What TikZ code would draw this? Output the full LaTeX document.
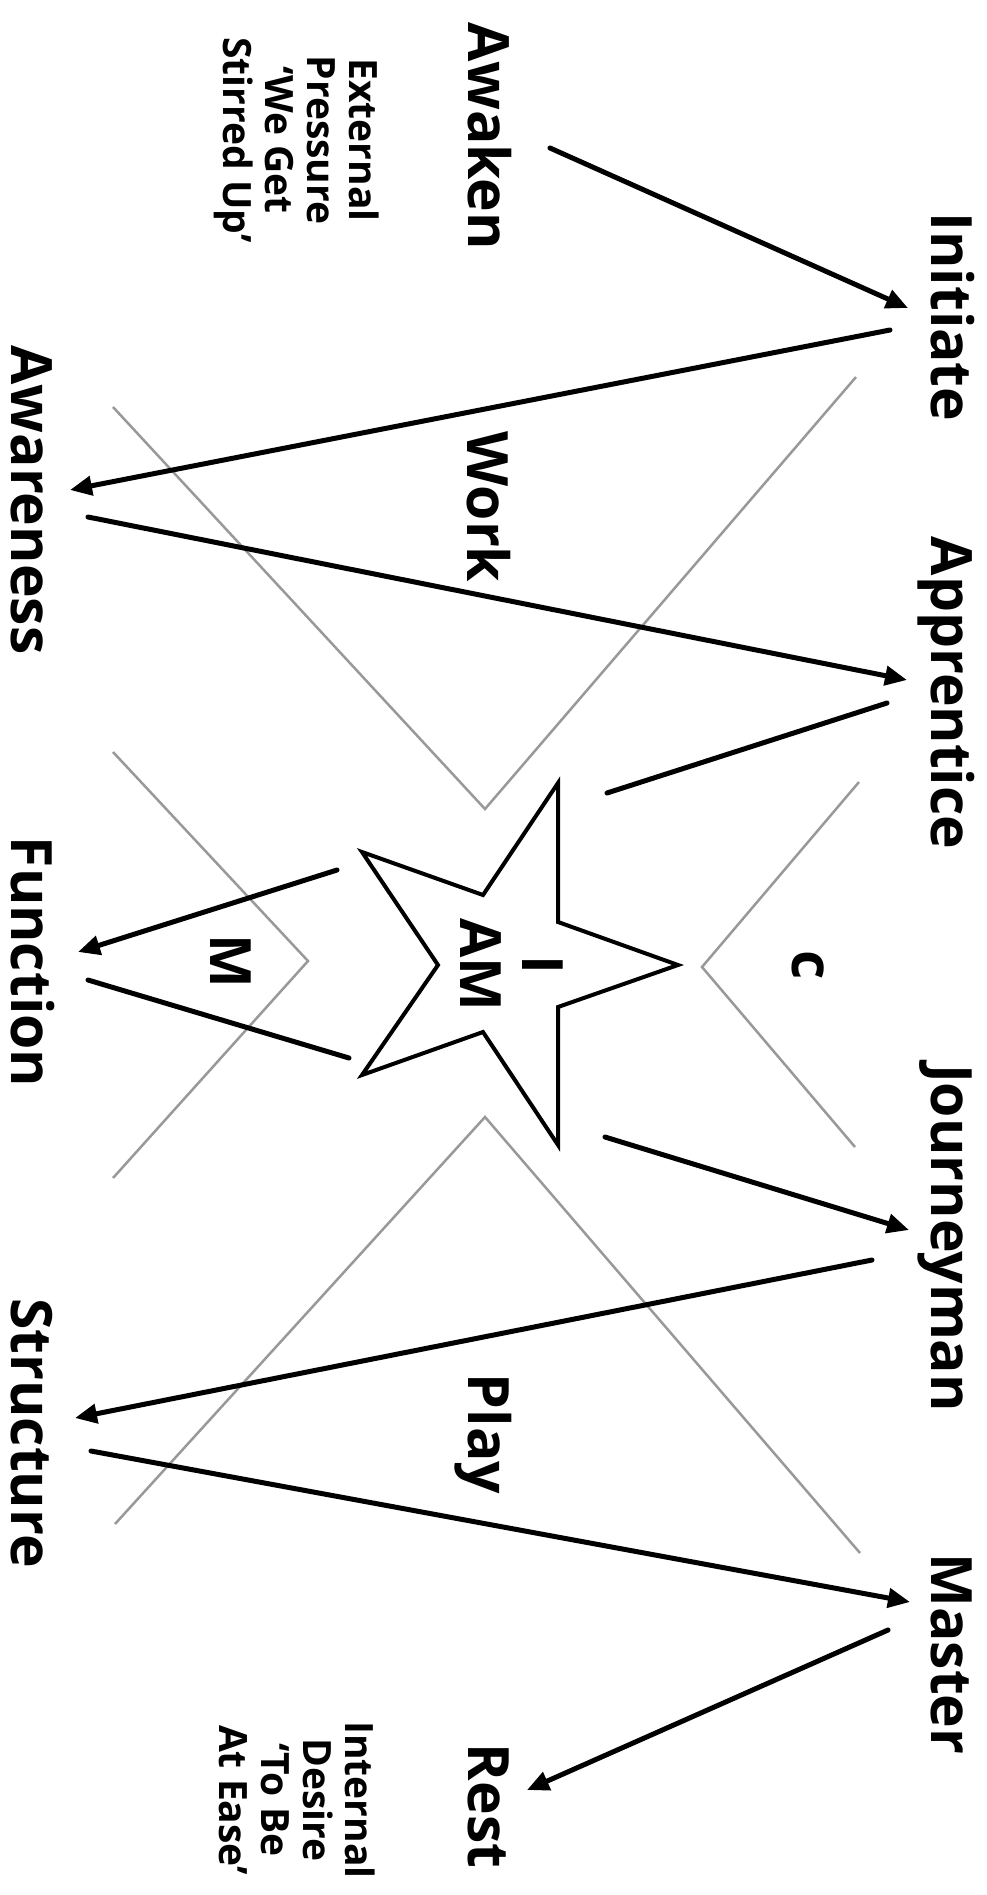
\documentclass[tikz,border=0pt]{standalone}
\usepackage{fontspec}
\setmainfont{Open Sans}
\usetikzlibrary{arrows.meta}
\begin{document}
\begin{tikzpicture}[x=1pt,y=-1pt,
  lbl/.style={font=\fontsize{57}{62}\selectfont\bfseries, inner sep=0pt, rotate=-90},
  note/.style={font=\fontsize{39}{42}\selectfont\bfseries, inner sep=0pt, rotate=-90, align=center},
  conn/.style={line width=5pt, line cap=round},
  arr/.style={conn, -{Triangle[length=22pt,width=19pt]}},
  guide/.style={black!40, line width=2.5pt, line join=miter},
  starline/.style={line width=4pt, line join=miter}]
\fill[white] (0,0) rectangle (986,1895);
\useasboundingbox (0,0) rectangle (986,1895);

% gray guide chevrons
\draw[guide] (113,407) -- (485,809) -- (856,377);
\draw[guide] (113,752) -- (308,961) -- (113,1178);
\draw[guide] (859,782) -- (702,967) -- (855,1147);
\draw[guide] (115,1524) -- (485,1117) -- (860,1553);

% star
\draw[starline, fill=white] (678,965) -- (558,922) -- (558,783) -- (483,895) -- (362,852)
  -- (438,965) -- (362,1075) -- (483,1032) -- (558,1145) -- (558,1007) -- cycle;

% labels
\node[lbl,anchor=base] (awaken) at (468,136) {Awaken};
\node[lbl,anchor=base] (initiate) at (931,317) {Initiate};
\node[lbl,anchor=base] (apprentice) at (931,693) {Apprentice};
\node[lbl,anchor=base] (journeyman) at (931,1238) {Journeyman};
\node[lbl,anchor=base] (master) at (931,1654) {Master};
\node[lbl,anchor=base] (awareness) at (12,500) {Awareness};
\node[lbl,anchor=base] (function) at (12,962) {Function};
\node[lbl,anchor=base] (structure) at (12,1433) {Structure};
\node[lbl,anchor=base] (work) at (467,507) {Work};
\node[lbl,anchor=base] (play) at (468,1434) {Play};
\node[lbl,anchor=base] (rest) at (468,1806) {Rest};
\node[lbl,anchor=base] (mlabel) at (210,961) {M};
\node[lbl,anchor=base] (clabel) at (792,965) {c};
\node[lbl,align=center,anchor=center] (iam) at (512,965) {I\\AM};
\node[note] (external) at (297,140) {External\\Pressure\\`We Get\\Stirred Up'};
\node[note] (internal) at (297,1800) {Internal\\Desire\\`To Be\\At Ease'};

% connector end points
\coordinate (awaken-out) at (550,148);
\coordinate (initiate-in) at (908,308);
\coordinate (initiate-out) at (890,330);
\coordinate (awareness-in) at (70,490);
\coordinate (awareness-out) at (88,517);
\coordinate (apprentice-in) at (907,680);
\coordinate (apprentice-out) at (887,703);
\coordinate (star-ur) at (607,793);
\coordinate (star-ul) at (337,870);
\coordinate (function-in) at (78,952);
\coordinate (function-out) at (88,980);
\coordinate (star-ll) at (349,1058);
\coordinate (star-lr) at (605,1137);
\coordinate (journeyman-in) at (909,1230);
\coordinate (journeyman-out) at (872,1260);
\coordinate (structure-in) at (75,1418);
\coordinate (structure-out) at (91,1451);
\coordinate (master-in) at (910,1602);
\coordinate (master-out) at (888,1630);
\coordinate (rest-in) at (527,1790);

% connectors
\draw[arr] (awaken-out) -- (initiate-in);
\draw[arr] (initiate-out) -- (awareness-in);
\draw[arr] (awareness-out) -- (apprentice-in);
\draw[conn] (apprentice-out) -- (star-ur);
\draw[arr] (star-ul) -- (function-in);
\draw[conn] (function-out) -- (star-ll);
\draw[arr] (star-lr) -- (journeyman-in);
\draw[arr] (journeyman-out) -- (structure-in);
\draw[arr] (structure-out) -- (master-in);
\draw[arr] (master-out) -- (rest-in);
\end{tikzpicture}
\end{document}
